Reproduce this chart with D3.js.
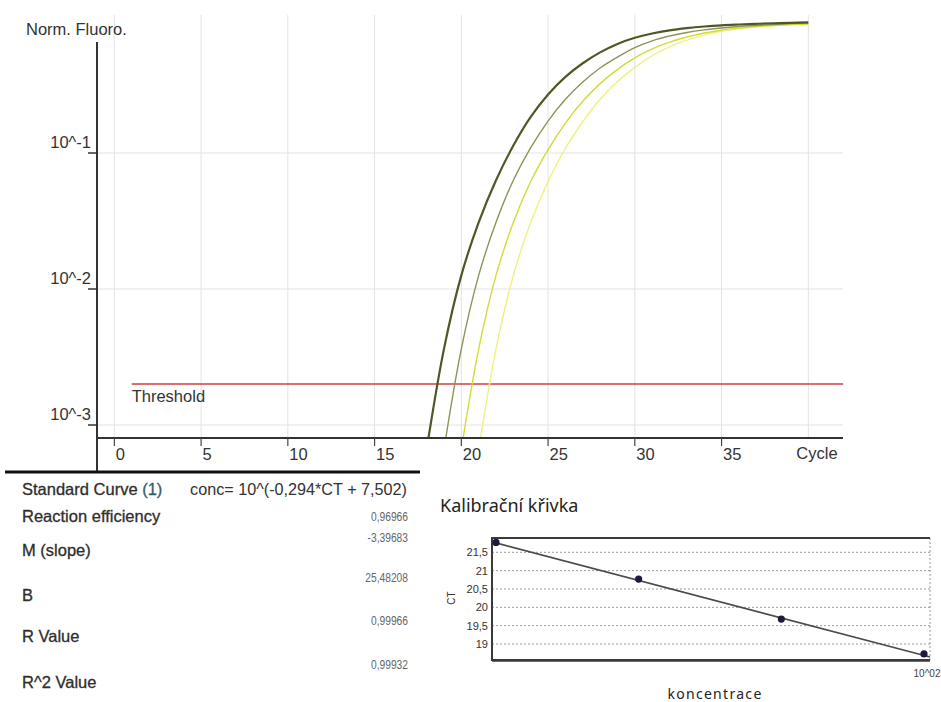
<!DOCTYPE html>
<html>
<head>
<meta charset="utf-8">
<script src="https://cdn.jsdelivr.net/npm/d3@7/dist/d3.min.js"></script>
<style>
  body { margin: 0; background: #fff; }
  svg { display: block; }
</style>
</head>
<body>
<svg id="chart" width="941" height="702"></svg>
<script>
// ---- amplification curves: normalized fluorescence per cycle ----
// each series starts at its own first cycle and runs to cycle 40
const firstCycle = [18, 19, 20, 21];
const fluoS1 = [0.000661, 0.00363, 0.01259, 0.0309, 0.0631, 0.1135, 0.1841, 0.2692, 0.3631, 0.4571, 0.5495, 0.6339,
                0.7031, 0.7568, 0.7980, 0.8279, 0.8511, 0.8690, 0.8810, 0.8913, 0.8995, 0.9057, 0.9120];
const fluoS2 = [0.000661, 0.00363, 0.01259, 0.0309, 0.0631, 0.1096, 0.1718, 0.2483, 0.3327, 0.4217, 0.5070, 0.5957,
                0.6683, 0.7244, 0.7691, 0.8035, 0.8299, 0.8511, 0.8670, 0.8810, 0.8933, 0.9016];
const fluoS3 = [0.000661, 0.00363, 0.01259, 0.0309, 0.0617, 0.1059, 0.1660, 0.2399, 0.3236, 0.4121, 0.5012, 0.5821,
                0.6531, 0.7129, 0.7621, 0.7998, 0.8279, 0.8511, 0.8670, 0.8790, 0.8892];
const fluoS4 = [0.000661, 0.00363, 0.01259, 0.0309, 0.0617, 0.1084, 0.1698, 0.2483, 0.3350, 0.4266, 0.5188, 0.6026,
                0.6761, 0.7362, 0.7834, 0.8185, 0.8453, 0.8650, 0.8790, 0.8892];
const curveColors = ["#4e5824", "#8f9356", "#d3da3a", "#eef27c"];
const curveWidths = [2.2, 1.4, 1.4, 1.4];

const xTickCycles = [0, 5, 10, 15, 20, 25, 30, 35];
const gridCycles = [0, 5, 10, 15, 20, 25, 30, 35, 40];
const yTickValues = [1e-1, 1e-2, 1e-3];
const yTickLabels = ["10^-1", "10^-2", "10^-3"];
const thresholdValue = 0.002;
const thresholdStartCycle = 1;

// ---- standard curve ----
const concentrations = [12.5, 25, 50, 100];
const ctMeasured = [21.77, 20.77, 19.68, 18.73];
const ctTicks = [19, 19.5, 20, 20.5, 21, 21.5];
const slopeM = -3.39683;
const interceptB = 25.48208;
const statLabels = ["Reaction efficiency", "M (slope)", "B", "R Value", "R^2 Value"];
const statValues = ["0,96966", "-3,39683", "25,48208", "0,99966", "0,99932"];

const svg = d3.select("#chart");
const FONT = "'Liberation Sans', Arial, sans-serif";

// ================= amplification plot =================
const plot = { left: 97, right: 843, top: 15, bottom: 438 };
const x = d3.scaleLinear().domain([-1, 42]).range([plot.left, plot.right]);
const y = d3.scaleLog().domain([1e-3, 1]).range([425, 17]);

const defs = svg.append("defs");
defs.append("clipPath").attr("id", "plotClip")
  .append("rect")
  .attr("x", plot.left).attr("y", plot.top - 5)
  .attr("width", plot.right - plot.left).attr("height", plot.bottom - plot.top + 5);

// grid
svg.append("g").selectAll("line").data(gridCycles).join("line")
  .attr("x1", d => x(d)).attr("x2", d => x(d))
  .attr("y1", plot.top).attr("y2", plot.bottom)
  .attr("stroke", "#e3e3e3").attr("stroke-width", 1);
svg.append("g").selectAll("line").data(yTickValues).join("line")
  .attr("x1", plot.left).attr("x2", plot.right)
  .attr("y1", d => y(d)).attr("y2", d => y(d))
  .attr("stroke", "#e3e3e3").attr("stroke-width", 1);

// threshold
svg.append("line")
  .attr("x1", x(thresholdStartCycle)).attr("x2", plot.right)
  .attr("y1", y(thresholdValue)).attr("y2", y(thresholdValue))
  .attr("stroke", "#cf3f45").attr("stroke-width", 1.6);
svg.append("text")
  .attr("x", x(thresholdStartCycle)).attr("y", y(thresholdValue) + 18)
  .attr("font-family", FONT).attr("font-size", 16.5).attr("fill", "#333")
  .text("Threshold");

// curves
const series = [fluoS1, fluoS2, fluoS3, fluoS4].map((vals, i) =>
  vals.map((v, j) => ({ cycle: firstCycle[i] + j, value: v })));
const line = d3.line().x(d => x(d.cycle)).y(d => y(d.value)).curve(d3.curveCatmullRom.alpha(0.5));
svg.append("g").attr("clip-path", "url(#plotClip)")
  .selectAll("path").data(series.map((s, i) => ({ s, i })).reverse()).join("path")
  .attr("d", d => line(d.s))
  .attr("fill", "none")
  .attr("stroke", d => curveColors[d.i])
  .attr("stroke-width", d => curveWidths[d.i])
  .attr("stroke-linejoin", "round");

// axes
svg.append("line")
  .attr("x1", plot.left).attr("x2", plot.left).attr("y1", 42).attr("y2", 472)
  .attr("stroke", "#333").attr("stroke-width", 2);
svg.append("line")
  .attr("x1", plot.left).attr("x2", plot.right).attr("y1", plot.bottom).attr("y2", plot.bottom)
  .attr("stroke", "#333").attr("stroke-width", 2);

// x ticks: mark below the axis with the label just to its right
const xt = svg.append("g").selectAll("g").data(xTickCycles).join("g")
  .attr("transform", d => `translate(${x(d)},${plot.bottom})`);
xt.append("line").attr("y1", 0).attr("y2", 8).attr("stroke", "#444").attr("stroke-width", 1.2);
xt.append("text").attr("x", 1.5).attr("y", 22)
  .attr("font-family", FONT).attr("font-size", 16.5).attr("fill", "#333")
  .text(d => d);
svg.append("text").attr("x", x(40) - 12).attr("y", plot.bottom + 21)
  .attr("font-family", FONT).attr("font-size", 16.5).attr("fill", "#333").text("Cycle");

// y ticks
const yt = svg.append("g").selectAll("g").data(yTickValues).join("g")
  .attr("transform", d => `translate(${plot.left},${y(d)})`);
yt.append("line").attr("x1", -9).attr("x2", 0).attr("stroke", "#333").attr("stroke-width", 1.5);
yt.append("text").attr("x", -6).attr("y", -5).attr("text-anchor", "end")
  .attr("font-family", FONT).attr("font-size", 16.5).attr("fill", "#333")
  .text((d, i) => yTickLabels[i]);
svg.append("text").attr("x", 26).attr("y", 35)
  .attr("font-family", FONT).attr("font-size", 16.5).attr("fill", "#333").text("Norm. Fluoro.");

// ================= results table =================
svg.append("line").attr("x1", 5).attr("x2", 420).attr("y1", 472).attr("y2", 472)
  .attr("stroke", "#111").attr("stroke-width", 3);

const labelY = [516, 550, 595, 636, 682];
const valueY = [516, 537, 577, 620, 664];
function tableLabel(txt, yy) {
  return svg.append("text").attr("x", 22).attr("y", yy + 5.5)
    .attr("font-family", FONT).attr("font-size", 16.5).attr("fill", "#2e2e2e")
    .attr("stroke", "#2e2e2e").attr("stroke-width", 0.3)
    .text(txt);
}
const hdr = tableLabel("Standard Curve ", 489);
hdr.append("tspan").attr("fill", "#2e5d70").attr("stroke", "#2e5d70").text("(1)");
svg.append("text").attr("x", 407).attr("y", 489 + 5.5).attr("text-anchor", "end")
  .attr("font-family", FONT).attr("font-size", 16.2).attr("fill", "#333")
  .text("conc= 10^(-0,294*CT + 7,502)");
statLabels.forEach((t, i) => tableLabel(t, labelY[i]));
statValues.forEach((t, i) => {
  const el = svg.append("text").attr("x", 408).attr("y", valueY[i] + 4.5)
    .attr("text-anchor", "end")
    .attr("font-family", FONT).attr("font-size", 12.5).attr("fill", "#666")
    .text(t);
  const w = el.node().getComputedTextLength();
  el.attr("textLength", w * 0.82).attr("lengthAdjust", "spacingAndGlyphs");
});

// ================= calibration plot =================
const box = { left: 492, right: 930, top: 538, bottom: 660 };
const cx = d3.scaleLog().domain([12.5, 100]).range([496, 924]);
const cy = d3.scaleLinear().domain([19, 21.5]).range([644, 552.3]);
const CFONT = "'Noto Sans', 'Open Sans', sans-serif";

svg.append("text").attr("x", 440).attr("y", 512)
  .attr("font-family", CFONT).attr("font-size", 18).attr("fill", "#222")
  .text("Kalibrační křivka");

// dotted grid
svg.append("g").selectAll("line").data(ctTicks).join("line")
  .attr("x1", box.left).attr("x2", box.right)
  .attr("y1", d => cy(d)).attr("y2", d => cy(d))
  .attr("stroke", "#9a9a9a").attr("stroke-width", 1).attr("stroke-dasharray", "2,2");

// frame
svg.append("line").attr("x1", box.right).attr("x2", box.right).attr("y1", box.top).attr("y2", box.bottom)
  .attr("stroke", "#999").attr("stroke-width", 1).attr("stroke-dasharray", "2,2");
svg.append("path")
  .attr("d", `M${box.right},${box.top}H${box.left}V${box.bottom}H${box.right}`)
  .attr("fill", "none").attr("stroke", "#3a3a3a").attr("stroke-width", 2);
svg.append("line").attr("x1", box.left).attr("x2", box.right).attr("y1", box.bottom + 1).attr("y2", box.bottom + 1)
  .attr("stroke", "#3a3a3a").attr("stroke-width", 1.5);

// regression line across the frame: CT = B + M * log10(conc)
const lineEnds = [cx.invert(box.left), cx.invert(box.right)];
svg.append("line")
  .attr("x1", box.left).attr("y1", cy(interceptB + slopeM * Math.log10(lineEnds[0])))
  .attr("x2", box.right).attr("y2", cy(interceptB + slopeM * Math.log10(lineEnds[1])))
  .attr("stroke", "#4a4a4a").attr("stroke-width", 1.6);

// measured points
svg.append("g").selectAll("circle").data(concentrations).join("circle")
  .attr("cx", d => cx(d)).attr("cy", (d, i) => cy(ctMeasured[i])).attr("r", 3.6)
  .attr("fill", "#1b1b3c");

// tick labels
svg.append("g").selectAll("text").data(ctTicks).join("text")
  .attr("x", 488).attr("y", d => cy(d) + 4).attr("text-anchor", "end")
  .attr("font-family", FONT).attr("font-size", 11).attr("fill", "#333")
  .text(d => String(d).replace(".", ","));
svg.append("text").attr("x", cx(100) + 3).attr("y", 677).attr("text-anchor", "middle")
  .attr("font-family", FONT).attr("font-size", 10).attr("fill", "#444").text("10^02");
svg.append("text").attr("transform", "translate(455,598) rotate(-90)").attr("text-anchor", "middle")
  .attr("font-family", FONT).attr("font-size", 10).attr("fill", "#333").text("CT");
svg.append("text").attr("x", 715).attr("y", 699).attr("text-anchor", "middle")
  .attr("font-family", CFONT).attr("font-size", 14).attr("letter-spacing", 1.3).attr("fill", "#222")
  .text("koncentrace");
</script>
</body>
</html>
